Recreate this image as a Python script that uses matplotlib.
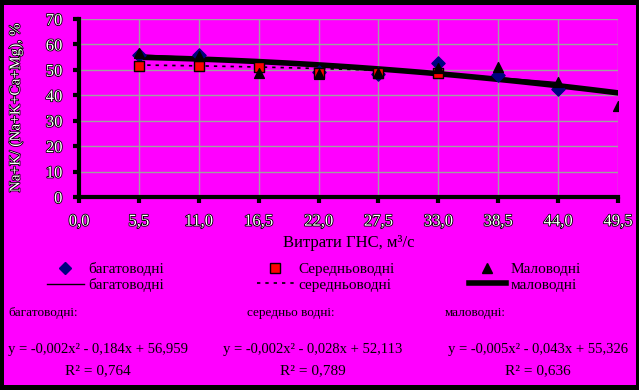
import numpy as np
import matplotlib
matplotlib.use("Agg")
import matplotlib.pyplot as plt
import matplotlib.patheffects as pe
from matplotlib.lines import Line2D

plt.rcParams['font.family'] = ['Liberation Serif', 'DejaVu Serif']

# дані
x_bag = [5.5, 11.0, 22.0, 27.5, 33.0, 38.5, 44.0]
y_bag = [55.8, 55.8, 49.0, 48.2, 52.6, 48.0, 42.5]

x_ser = [5.5, 11.0, 16.5, 22.0, 27.5, 33.0]
y_ser = [51.6, 51.6, 51.2, 48.9, 48.6, 48.6]

x_mal = [5.5, 11.0, 16.5, 22.0, 27.5, 33.0, 38.5, 44.0, 49.5]
y_mal = [56.8, 55.5, 48.6, 48.2, 48.6, 50.6, 51.2, 45.3, 35.8]

# коефіцієнти трендів (з рівнянь на рисунку)
k_bag = [-0.002, -0.184, 56.959]
k_ser = [-0.002, -0.028, 52.113]
k_mal = [-0.005, -0.043, 55.326]

xticks = [0.0, 5.5, 11.0, 16.5, 22.0, 27.5, 33.0, 38.5, 44.0, 49.5]
yticks = [0, 10, 20, 30, 40, 50, 60, 70]

mag = '#ff00ff'
fig = plt.figure(figsize=(6.39, 3.90), dpi=100, facecolor='black')
bg = fig.add_axes([4/639, 5/390, 632/639, 380/390])
bg.set_facecolor(mag)
bg.set_xticks([]); bg.set_yticks([])
for s in bg.spines.values():
    s.set_visible(False)

ax = fig.add_axes([79/639, 1-197/390, (618-79)/639, (197-19)/390])
ax.set_facecolor(mag)
ax.set_xlim(0, 49.5)
ax.set_ylim(0, 70)
ax.set_xticks(xticks)
ax.set_yticks(yticks)
ax.grid(True, color='#a0a0a0', linewidth=1)
ax.set_axisbelow(True)
for s in ['top', 'right']:
    ax.spines[s].set_visible(False)
for s in ['left', 'bottom']:
    ax.spines[s].set_linewidth(3)
ax.tick_params(length=4, width=3, direction='out', pad=8)

outline = [pe.withStroke(linewidth=1.2, foreground='black')]
ax.set_xticklabels([('%.1f' % v).replace('.', ',') for v in xticks],
                   fontsize=12, color='white', path_effects=outline)
ax.set_yticklabels([str(v) for v in yticks], fontsize=12, color='white',
                   path_effects=outline)

def tr(k, xs):
    xx = np.linspace(xs[0], xs[-1], 100)
    return xx, np.polyval(k, xx)

xx, yy = tr(k_ser, x_ser)
ax.plot(xx, yy, color='black', linestyle=(0, (2, 3)), linewidth=1.2)
xx, yy = tr(k_bag, x_bag)
ax.plot(xx, yy, color='black', linewidth=1)
xx, yy = tr(k_mal, x_mal)
ax.plot(xx, yy, color='black', linewidth=4)

ax.scatter(x_bag, y_bag, marker='D', s=45, color='#000080', zorder=5)
ax.scatter(x_ser, y_ser, marker='s', s=50, color='red', edgecolor='black',
           linewidth=1, zorder=6)
ax.scatter(x_mal, y_mal, marker='^', s=50, color='black', zorder=7)

ax.set_xlabel('Витрати ГНС, м³/с', fontsize=12, labelpad=4)
fig.text(16/639, 1-108/390, 'Na+K/ (Na+K+Ca+Mg), %', rotation=90,
         ha='center', va='center', fontsize=11, color='white',
         path_effects=outline)

groups = [
    (47, [Line2D([], [], marker='D', color='#000080', linestyle='none', markersize=6),
          Line2D([], [], color='black', linewidth=1)],
     ['багатоводні', 'багатоводні']),
    (257, [Line2D([], [], marker='s', color='red', markeredgecolor='black', linestyle='none', markersize=7),
           Line2D([], [], color='black', linestyle=(0, (2, 3)), linewidth=1.2)],
     ['Середньоводні', 'середньоводні']),
    (469, [Line2D([], [], marker='^', color='black', linestyle='none', markersize=7),
           Line2D([], [], color='black', linewidth=4)],
     ['Маловодні', 'маловодні']),
]
for x0, h, l in groups:
    fig.legend(h, l, loc='center left', bbox_to_anchor=(x0/639, 1-277/390),
               frameon=False, fontsize=11, handlelength=2.4, handletextpad=0.3,
               labelspacing=0.12, borderpad=0, borderaxespad=0)

fig.text(8/639, 1-313/390, 'багатоводні:', fontsize=9.5, va='center')
fig.text(247/639, 1-313/390, 'середньо водні:', fontsize=9.5, va='center')
fig.text(445/639, 1-313/390, 'маловодні:', fontsize=9.5, va='center')

eqs = ['y = -0,002x² - 0,184x + 56,959',
       'y = -0,002x² - 0,028x + 52,113',
       'y = -0,005x² - 0,043x + 55,326']
r2 = ['R² = 0,764', 'R² = 0,789', 'R² = 0,636']
cx = [98, 313, 538]
for e, r, c in zip(eqs, r2, cx):
    fig.text(c/639, 1-350/390, e, fontsize=10.5, ha='center', va='center')
    fig.text(c/639, 1-371/390, r, fontsize=11, ha='center', va='center')

fig.savefig('out.png', dpi=100, facecolor='black')
